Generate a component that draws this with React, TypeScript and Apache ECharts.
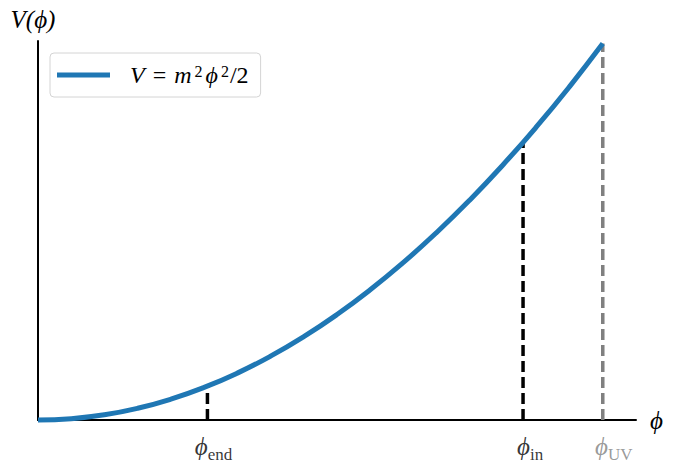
import React, { useEffect, useRef } from "react";
import * as echarts from "echarts";

const phiValues = [0, 1, 2, 3, 4, 5, 6, 7, 8, 9, 10, 11, 12, 13, 14, 15, 16, 17];
const potentialValues = [0, 0.5, 2, 4.5, 8, 12.5, 18, 24.5, 32, 40.5, 50, 60.5, 72, 84.5, 98, 112.5, 128, 144.5];
const markerNames = ["end", "in", "UV"];
const markerPhi = [5.1, 14.6, 17];
const markerV = [13.0, 106.6, 144.5];
const markerColors = ["#000000", "#000000", "#808080"];
const xMax = 18;
const yMax = 145.5;

const MATH = "'Liberation Serif', 'DejaVu Serif', serif";
const labelShift = [6, 7, 11];

export default function App() {
  const ref = useRef<HTMLDivElement>(null);
  useEffect(() => {
    if (!ref.current) return;
    const chart = echarts.init(ref.current, null, { renderer: "svg" });
    const curve = phiValues.map((p, i) => [p, potentialValues[i]]);
    const markerSeries = markerNames.map((n, i) => ({
      type: "line",
      name: "m_" + n,
      data: [
        [markerPhi[i], 0],
        [markerPhi[i], markerV[i]],
      ],
      showSymbol: false,
      symbol: "none",
      lineStyle: { color: markerColors[i], width: 3.5, type: [11, 5] },
      z: 1,
      silent: true,
    }));
    const labelSeries = {
      type: "scatter",
      name: "ticks",
      symbolSize: 0,
      silent: true,
      data: markerNames.map((n, i) => ({
        value: [markerPhi[i], 0],
        label: {
          show: true,
          position: "bottom",
          distance: 13,
          offset: [labelShift[i], 0],
          formatter: "{p|ϕ}{s|" + n + "}",
          rich: {
            p: { fontFamily: MATH, fontStyle: "italic", fontSize: 25, color: markerColors[i], lineHeight: 26, verticalAlign: "bottom" },
            s: { fontFamily: MATH, fontSize: 17, color: markerColors[i], lineHeight: 14, verticalAlign: "bottom", padding: [0, 0, -4, 0] },
          },
        },
      })),
      z: 4,
    };
    chart.setOption({
      animation: false,
      grid: { left: 38, top: 41, right: 39, bottom: 48 },
      xAxis: {
        type: "value",
        min: 0,
        max: xMax,
        name: "ϕ",
        nameLocation: "end",
        nameGap: 14,
        nameTextStyle: { fontFamily: MATH, fontStyle: "italic", fontSize: 25, color: "#000" },
        axisLine: { show: true, onZero: false, lineStyle: { color: "#000", width: 2 } },
        axisTick: { show: false },
        axisLabel: { show: false },
        splitLine: { show: false },
      },
      yAxis: {
        type: "value",
        min: 0,
        max: yMax,
        name: "V(ϕ)",
        nameLocation: "end",
        nameGap: 9,
        nameTextStyle: { fontFamily: MATH, fontStyle: "italic", fontSize: 25, color: "#000", align: "center", padding: [0, 10, 0, 0] },
        axisLine: { show: true, lineStyle: { color: "#000", width: 2 } },
        axisTick: { show: false },
        axisLabel: { show: false },
        splitLine: { show: false },
      },
      legend: {
        data: ["curve"],
        left: 50,
        top: 53,
        orient: "vertical",
        backgroundColor: "#fff",
        borderColor: "#d4d4d4",
        borderWidth: 1,
        borderRadius: 4,
        padding: [10, 12, 10, 7],
        icon: "rect",
        itemWidth: 53,
        itemHeight: 5,
        formatter: () => "{i|V} = {i|m}{u|2}{i|ϕ}{u|2}/2",
        textStyle: {
          fontFamily: MATH,
          fontSize: 24,
          color: "#000",
          padding: [0, 0, 0, 13],
          rich: {
            i: { fontFamily: MATH, fontStyle: "italic", fontSize: 24, color: "#000", padding: [0, 2, 0, 2] },
            u: { fontFamily: MATH, fontSize: 16, color: "#000", verticalAlign: "top", lineHeight: 16, padding: [0, 1, 0, 1] },
          },
        },
      },
      series: [
        ...markerSeries,
        labelSeries,
        {
          type: "line",
          name: "curve",
          data: curve,
          smooth: true,
          showSymbol: false,
          symbol: "none",
          lineStyle: { color: "#1f77b4", width: 5 },
          itemStyle: { color: "#1f77b4" },
          z: 3,
          clip: false,
        },
      ],
    });
    return () => chart.dispose();
  }, []);
  return <div ref={ref} style={{ width: 675, height: 468, position: "absolute", left: 0, top: 0 }} />;
}
